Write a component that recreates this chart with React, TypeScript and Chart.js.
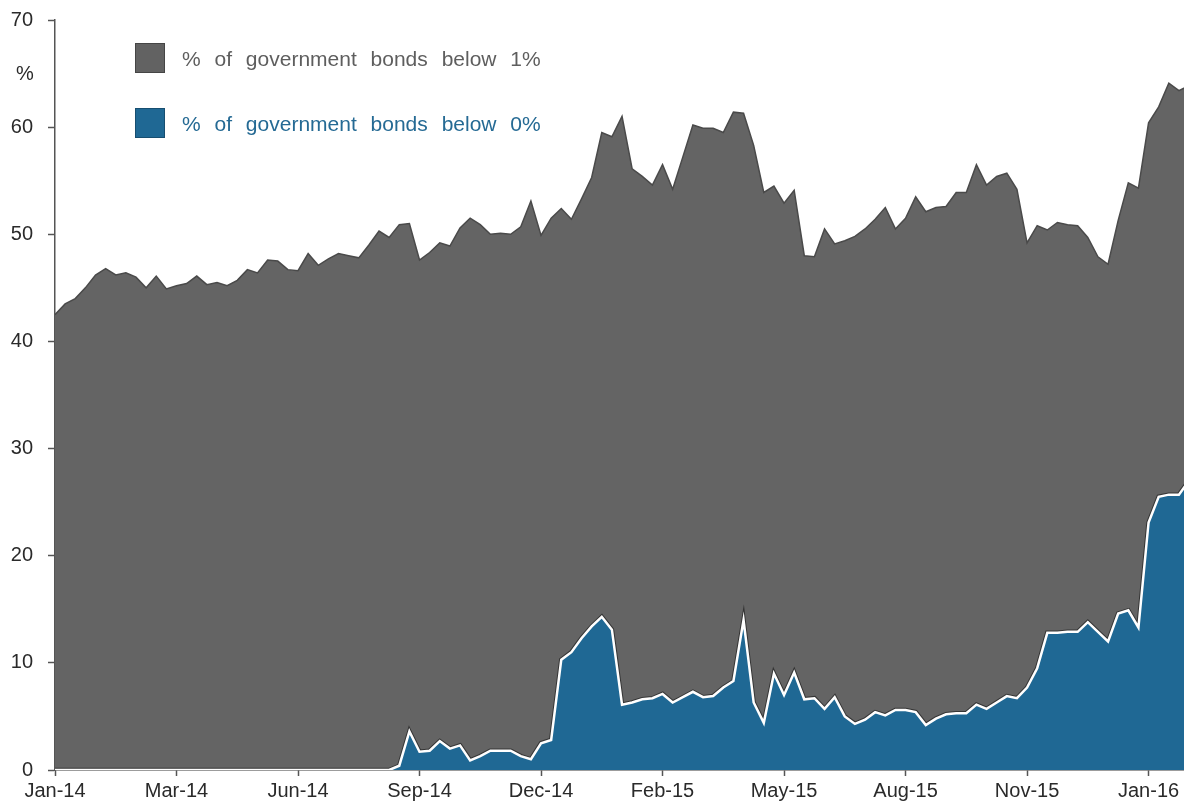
import React, { useEffect, useRef } from 'react';
import { Chart, registerables } from 'chart.js';

Chart.register(...registerables);

// x ticks: every 12 weeks, labelled with the month
const TICK_LABELS = ['Jan-14', 'Mar-14', 'Jun-14', 'Sep-14', 'Dec-14', 'Feb-15', 'May-15', 'Aug-15', 'Nov-15', 'Jan-16'];
const TICK_WEEKS = [0, 12, 24, 36, 48, 60, 72, 84, 96, 108];

// % of government bonds below 1% (weekly)
const BELOW_1 = [
  42.5, 43.5, 44.0, 45.0, 46.2, 46.8, 46.2, 46.4, 46.0, 45.0,
  46.1, 44.9, 45.2, 45.4, 46.1, 45.3, 45.5, 45.2, 45.7, 46.7,
  46.4, 47.6, 47.5, 46.7, 46.6, 48.2, 47.1, 47.7, 48.2, 48.0,
  47.8, 49.0, 50.3, 49.7, 50.9, 51.0, 47.6, 48.3, 49.2, 48.9,
  50.6, 51.5, 50.9, 50.0, 50.1, 50.0, 50.7, 53.1, 49.9, 51.5,
  52.4, 51.4, 53.3, 55.3, 59.5, 59.1, 61.0, 56.1, 55.4, 54.6,
  56.5, 54.2, 57.2, 60.2, 59.9, 59.9, 59.5, 61.4, 61.3, 58.3,
  53.9, 54.5, 52.9, 54.1, 48.0, 47.9, 50.5, 49.1, 49.4, 49.8,
  50.5, 51.4, 52.5, 50.5, 51.5, 53.5, 52.1, 52.5, 52.6, 53.9,
  53.9, 56.5, 54.6, 55.4, 55.7, 54.2, 49.2, 50.8, 50.4, 51.1,
  50.9, 50.8, 49.7, 47.9, 47.2, 51.3, 54.8, 54.3, 60.4, 61.9,
  64.1, 63.4, 63.9,
];

// % of government bonds below 0% (weekly)
const BELOW_0 = [
  0, 0, 0, 0, 0, 0, 0, 0, 0, 0,
  0, 0, 0, 0, 0, 0, 0, 0, 0, 0,
  0, 0, 0, 0, 0, 0, 0, 0, 0, 0,
  0, 0, 0, 0, 0.4, 3.6, 1.7, 1.8, 2.7, 2.0,
  2.3, 0.9, 1.3, 1.8, 1.8, 1.8, 1.3, 1.0, 2.5, 2.8,
  10.3, 11.0, 12.3, 13.4, 14.3, 13.1, 6.1, 6.3, 6.6, 6.7,
  7.1, 6.3, 6.8, 7.3, 6.8, 6.9, 7.7, 8.3, 14.0, 6.3,
  4.4, 9.0, 7.0, 9.1, 6.6, 6.7, 5.7, 6.8, 5.0, 4.3,
  4.7, 5.4, 5.1, 5.6, 5.6, 5.4, 4.2, 4.8, 5.2, 5.3,
  5.3, 6.1, 5.7, 6.3, 6.9, 6.7, 7.7, 9.5, 12.8, 12.8,
  12.9, 12.9, 13.8, 12.9, 12.0, 14.6, 14.9, 13.3, 23.1, 25.5,
  25.7, 25.7, 27.0,
];

const FONT = "'Liberation Sans', Arial, sans-serif";

export default function App() {
  const ref = useRef<HTMLCanvasElement | null>(null);

  useEffect(() => {
    if (!ref.current) return;
    const toXY = (arr: number[]) => arr.map((y, i) => ({ x: i, y }));
    const chart = new Chart(ref.current, {
      type: 'line',
      data: {
        datasets: [
          {
            label: '% of government bonds below 0%',
            data: toXY(BELOW_0),
            fill: 'origin',
            backgroundColor: '#1f6894',
            borderColor: '#ffffff',
            borderWidth: 2.5,
            pointRadius: 0,
            tension: 0,
            clip: 0,
          },
          {
            label: 'outline',
            data: toXY(BELOW_0),
            fill: false,
            borderColor: 'rgba(45,45,45,0.85)',
            borderWidth: 4.5,
            pointRadius: 0,
            tension: 0,
            clip: 0,
          },
          {
            label: '% of government bonds below 1%',
            data: toXY(BELOW_1),
            fill: 'origin',
            backgroundColor: '#646464',
            borderColor: '#4a4a4a',
            borderWidth: 1.5,
            pointRadius: 0,
            tension: 0,
            clip: 0,
          },
        ],
      },
      options: {
        animation: false,
        responsive: false,
        devicePixelRatio: 1,
        layout: { padding: { top: 20, left: 0, right: 0, bottom: 0 } },
        plugins: { legend: { display: false }, tooltip: { enabled: false } },
        scales: {
          x: {
            type: 'linear',
            min: 0,
            max: 111.5,
            z: 1,
            afterBuildTicks: (s: any) => {
              s.ticks = TICK_WEEKS.map((v) => ({ value: v }));
            },
            afterFit: (s: any) => {
              s.height = 37;
            },
            grid: { drawOnChartArea: false, tickLength: 6, tickColor: '#555', tickWidth: 1.5 },
            border: { color: '#3a3a3a', width: 1.5 },
            ticks: {
              autoSkip: false,
              maxRotation: 0,
              padding: 3,
              color: '#2a2a2a',
              font: { family: FONT, size: 20 },
              callback: (_v: any, i: number) => TICK_LABELS[i] ?? '',
            },
          },
          y: {
            min: 0,
            max: 70,
            z: 1,
            afterFit: (s: any) => {
              s.width = 55;
              s.paddingTop = 0;
              s.paddingBottom = 0;
            },
            grid: { drawOnChartArea: false, tickLength: 7, tickColor: '#555', tickWidth: 1.5 },
            border: { color: '#555', width: 1.5 },
            ticks: {
              stepSize: 10,
              padding: 15,
              color: '#2a2a2a',
              font: { family: FONT, size: 20 },
            },
          },
        },
      },
    });
    return () => chart.destroy();
  }, []);

  const legendText: React.CSSProperties = {
    position: 'absolute',
    left: 182,
    fontFamily: FONT,
    fontSize: 21,
    wordSpacing: 8,
    lineHeight: '30px',
    whiteSpace: 'nowrap',
  };
  const box: React.CSSProperties = {
    position: 'absolute',
    left: 135,
    width: 30,
    height: 30,
    boxSizing: 'border-box',
  };

  return (
    <div style={{ position: 'fixed', left: 0, top: 0, width: 1184, height: 807, background: '#fff', overflow: 'hidden' }}>
      <canvas ref={ref} width={1184} height={807} style={{ position: 'absolute', left: 0, top: 0, width: 1184, height: 807 }} />
      <div style={{ position: 'absolute', left: 16, top: 60, fontFamily: FONT, fontSize: 20, color: '#2a2a2a', lineHeight: '26px' }}>%</div>
      <div style={{ ...box, top: 43, background: '#626262', border: '1px solid #454545' }} />
      <div style={{ ...legendText, top: 44, color: '#5e5e5e' }}>% of government bonds below 1%</div>
      <div style={{ ...box, top: 108, background: '#1f6894', border: '1px solid #174e70' }} />
      <div style={{ ...legendText, top: 109, color: '#256a94' }}>% of government bonds below 0%</div>
    </div>
  );
}
